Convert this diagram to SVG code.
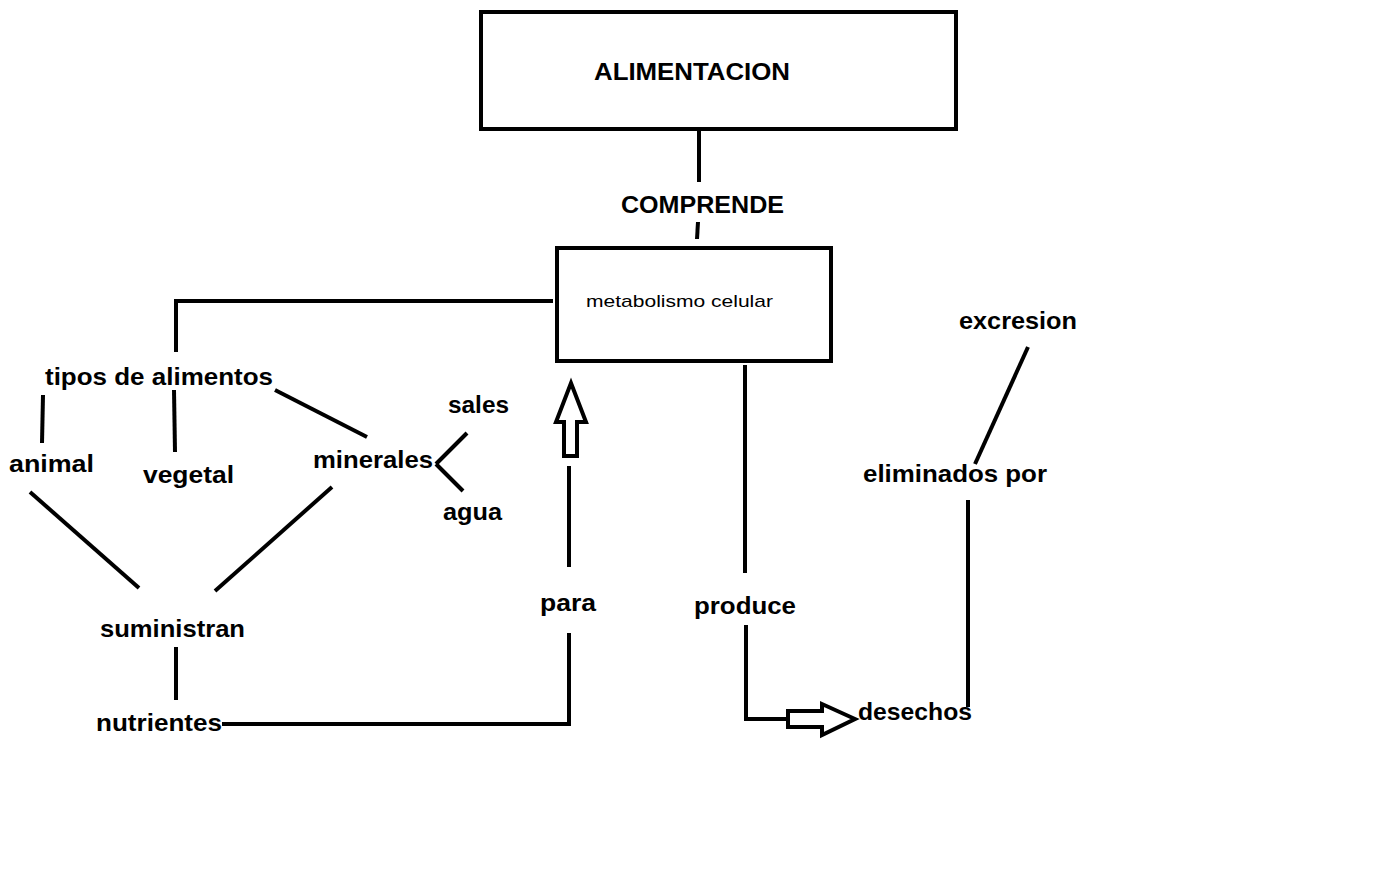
<svg xmlns="http://www.w3.org/2000/svg" width="1382" height="879" viewBox="0 0 1382 879">
<style>
text{font-family:"Liberation Sans",Arial,sans-serif;font-weight:bold;font-size:24px;fill:#000}
.n{font-weight:normal;font-size:17px}
.box{fill:#fff;stroke:#000;stroke-width:4}
.c line,.c polyline{stroke:#000;stroke-width:4;fill:none}
.c polygon{stroke:#000;stroke-width:4;fill:#fff;stroke-linejoin:miter}
</style>
<rect width="1382" height="879" fill="#fff"/>
<g class="c" id="connectors">
<line x1="699" y1="131" x2="699" y2="182"/>
<line x1="698" y1="222" x2="697" y2="239"/>
<polyline points="553,301 176,301 176,352"/>
<line x1="43" y1="395" x2="42" y2="443"/>
<line x1="174" y1="390" x2="175" y2="452"/>
<line x1="275" y1="390" x2="367" y2="437"/>
<line x1="30" y1="492" x2="139" y2="588"/>
<line x1="332" y1="487" x2="215" y2="591"/>
<line x1="436" y1="464" x2="467" y2="433"/>
<line x1="436" y1="464" x2="463" y2="491"/>
<line x1="176" y1="647" x2="176" y2="700"/>
<polyline points="222,724 569,724 569,633"/>
<line x1="569" y1="567" x2="569" y2="466"/>
<polygon points="564,456 564,422 556,422 571,383 586,422 577,422 577,456"/>
<line x1="745" y1="365" x2="745" y2="573"/>
<polyline points="746,625 746,719 788,719"/>
<polygon points="788,711 822,711 822,704 855,719 822,735 822,727 788,727"/>
<line x1="968" y1="500" x2="968" y2="707"/>
<line x1="975" y1="464" x2="1028" y2="347"/>
</g>
<g id="alimentacion"><rect class="box" x="481" y="12" width="475" height="117"/><text x="594" y="80" textLength="196" lengthAdjust="spacingAndGlyphs">ALIMENTACION</text></g>
<g id="comprende"><text x="621" y="213" textLength="163" lengthAdjust="spacingAndGlyphs">COMPRENDE</text></g>
<g id="metabolismo"><rect class="box" x="557" y="248" width="274" height="113"/><text class="n" x="586" y="307" textLength="187" lengthAdjust="spacingAndGlyphs">metabolismo celular</text></g>
<g id="tipos"><text x="45" y="385" textLength="228" lengthAdjust="spacingAndGlyphs">tipos de alimentos</text></g>
<g id="animal"><text x="9" y="472" textLength="85" lengthAdjust="spacingAndGlyphs">animal</text></g>
<g id="vegetal"><text x="143" y="483" textLength="91" lengthAdjust="spacingAndGlyphs">vegetal</text></g>
<g id="minerales"><text x="313" y="468" textLength="120" lengthAdjust="spacingAndGlyphs">minerales</text></g>
<g id="sales"><text x="448" y="413" textLength="61" lengthAdjust="spacingAndGlyphs">sales</text></g>
<g id="agua"><text x="443" y="520" textLength="59" lengthAdjust="spacingAndGlyphs">agua</text></g>
<g id="suministran"><text x="100" y="637" textLength="145" lengthAdjust="spacingAndGlyphs">suministran</text></g>
<g id="nutrientes"><text x="96" y="731" textLength="126" lengthAdjust="spacingAndGlyphs">nutrientes</text></g>
<g id="para"><text x="540" y="611" textLength="56" lengthAdjust="spacingAndGlyphs">para</text></g>
<g id="produce"><text x="694" y="614" textLength="102" lengthAdjust="spacingAndGlyphs">produce</text></g>
<g id="desechos"><text x="858" y="720" textLength="114" lengthAdjust="spacingAndGlyphs">desechos</text></g>
<g id="eliminados"><text x="863" y="482" textLength="184" lengthAdjust="spacingAndGlyphs">eliminados por</text></g>
<g id="excresion"><text x="959" y="329" textLength="118" lengthAdjust="spacingAndGlyphs">excresion</text></g>
</svg>
